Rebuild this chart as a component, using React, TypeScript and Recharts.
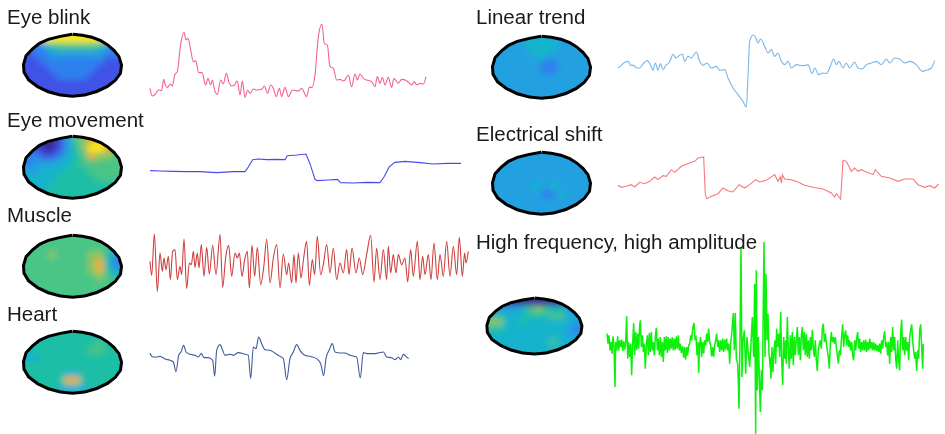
import { ComposedChart, Line, LineChart, Scatter, XAxis, YAxis } from "recharts";

// Traces: [x, y] at 3x, relative to a crop origin (y grows downwards)
const blinkTrace = [450,265,457,288,468,280,475,270,485,272,491,238,497,258,503,262,510,252,517,258,524,225,532,215,541,140,552,97,558,120,564,115,572,150,580,185,587,182,596,218,606,218,617,255,624,235,632,255,637,240,645,275,652,283,662,240,670,252,679,220,688,250,695,258,703,255,712,243,720,285,727,243,735,292,743,270,750,280,760,267,770,270,785,268,793,258,803,280,812,255,820,265,829,290,838,265,845,290,855,262,865,290,878,270,895,273,905,265,920,290,928,262,936,262,945,225,955,110,966,72,973,130,982,135,990,200,1000,205,1010,240,1020,238,1030,243,1035,240,1045,225,1055,260,1065,222,1072,240,1080,222,1090,235,1100,240,1115,245,1125,260,1132,230,1140,250,1147,232,1155,255,1165,232,1175,262,1182,235,1195,250,1205,238,1220,242,1235,255,1243,245,1250,255,1260,250,1270,252,1278,230];
const moveTrace = [450,196,480,197,520,198,560,199,600,199,650,202,700,199,735,199,745,185,758,163,775,161,800,163,830,162,855,163,862,151,890,149,918,146,930,175,945,222,952,226,985,224,1012,222,1022,232,1060,233,1100,231,1140,232,1152,215,1168,184,1185,171,1215,168,1260,172,1300,176,1340,174,1383,174];
const muscleTrace = [450,170,455,212,463,88,472,260,480,145,487,200,492,160,498,195,505,155,511,225,518,140,525,135,532,225,540,185,545,210,552,103,560,252,568,175,574,180,580,140,585,188,592,145,597,190,604,120,612,215,620,128,628,208,638,122,648,210,660,90,668,248,677,158,686,122,695,215,705,145,712,160,718,145,726,215,734,165,742,140,748,250,756,122,764,215,772,128,782,240,792,180,800,103,810,235,820,160,830,120,840,250,850,148,860,210,866,175,875,235,882,150,888,235,895,145,903,220,911,160,920,110,928,242,937,165,944,210,952,95,962,210,970,180,980,120,990,205,1000,130,1010,225,1020,175,1030,205,1040,135,1047,210,1056,130,1068,205,1078,160,1088,210,1100,150,1112,92,1122,232,1130,130,1140,225,1150,135,1160,225,1165,125,1172,205,1180,150,1188,205,1195,150,1205,180,1215,160,1223,232,1232,135,1240,215,1252,110,1260,225,1268,155,1275,210,1285,150,1293,225,1302,115,1312,225,1320,150,1330,215,1340,110,1350,215,1360,125,1370,210,1378,98,1387,215,1394,145,1398,175,1405,140];
const heartTrace = [450,158,458,170,470,170,480,168,495,176,510,180,520,185,528,214,536,165,543,155,551,135,558,155,570,162,585,165,595,170,604,160,612,172,625,172,638,180,644,228,650,150,660,133,668,150,675,165,690,162,700,165,715,157,730,160,745,165,752,235,760,140,768,145,776,110,785,130,795,148,810,150,820,155,835,165,850,175,860,238,870,175,880,155,890,133,900,150,915,165,930,168,950,175,962,190,971,226,978,175,988,148,997,130,1005,155,1020,158,1035,158,1050,165,1070,170,1081,233,1090,157,1105,160,1125,160,1150,155,1160,170,1175,172,1185,178,1195,170,1202,178,1210,162,1218,168,1226,175];
const trendTrace = [445,205,455,197,465,188,475,185,483,197,492,197,500,205,510,205,520,193,533,183,543,197,550,212,557,190,565,212,572,192,580,210,590,195,598,190,610,165,620,175,628,168,638,163,645,185,655,170,665,175,680,157,690,185,700,197,712,190,725,205,740,200,750,212,765,210,775,235,790,265,805,285,820,305,830,322,835,230,840,125,850,106,858,113,865,130,873,118,885,140,895,160,905,150,915,170,925,160,935,185,945,195,955,185,965,205,980,195,1000,198,1015,195,1027,222,1035,205,1047,225,1060,220,1070,222,1080,205,1092,178,1100,195,1108,185,1120,205,1130,190,1140,205,1155,187,1165,205,1178,208,1190,195,1205,190,1220,185,1235,195,1250,178,1260,190,1275,175,1290,178,1305,190,1320,185,1340,195,1358,215,1370,212,1385,205,1395,183];
const shiftTrace = [445,197,455,203,470,200,485,195,495,202,510,188,525,192,540,185,555,172,565,180,580,168,590,170,605,150,615,158,635,140,660,130,675,125,685,115,702,112,707,225,712,237,725,230,745,222,760,205,775,213,790,217,808,195,825,205,840,195,858,180,870,187,890,182,915,165,925,185,932,172,935,190,938,165,945,178,965,180,985,187,1005,197,1030,203,1060,208,1085,220,1095,232,1100,222,1113,238,1120,122,1130,125,1145,155,1155,145,1165,155,1175,150,1190,157,1210,165,1217,150,1235,170,1260,175,1285,185,1305,178,1330,178,1345,195,1365,203,1380,198,1395,205,1407,193];
const highTraceA = [5,100,8,130,11,105,14,150,17,125,20,160,23,108,26,140,29,260,31,125,34,150,37,108,40,150,43,120,46,140,49,118,52,152,55,122,58,148,61,125,64,48,67,175,70,125,73,170,76,130,79,225,82,130,85,68,88,165,91,95,94,150,97,100,100,145,103,75,105,60,108,140,111,105,114,155,117,130,120,205,123,135,126,105,129,165,132,98,135,155,138,95,141,150,144,125,147,165,150,110,153,82,156,150,159,115,162,165,165,110,168,170,171,125,174,185,177,110,180,150,183,108,186,158,189,110,192,150,195,115,198,145,201,110,204,150,207,115,210,148,213,108,216,145,219,105,222,150,225,130,228,158,232,138,235,172,238,140,241,178,244,140,247,165,250,135,253,130,256,105,259,120,262,85,266,68,269,115,272,110,275,165,278,125,280,218,283,130,286,110,289,170,292,125,295,160,298,120,301,135,304,100,307,125,310,85,313,125,316,135,319,168,322,140,325,170,328,135,331,120,334,100,337,140,340,120,343,155,346,120,349,150,352,115,355,155,358,118,361,148,364,115,367,150,370,130,373,190,376,130,380,90,384,38,387,150,390,38,393,175,397,190,399,240,401,325,404,120,407,-160,410,230,413,120,417,90,421,220,425,110,429,160,433,200,437,130,441,50,445,170,448,-50,451,400,453,-90,456,270,459,110,462,230,465,335,468,210,471,270,473,90,476,-175,479,170,482,-80,485,120,488,40,491,160,495,200];
const highTraceB = [0,170,3,235,6,140,9,215,12,150,15,120,17,190,20,85,23,140,26,100,29,170,32,35,35,180,38,255,41,110,44,175,47,120,49,190,52,50,55,150,58,205,61,105,64,175,67,95,70,195,73,110,76,165,79,115,82,80,85,165,88,110,91,180,94,105,97,80,100,150,103,95,106,165,109,100,112,170,115,120,118,175,121,110,124,150,127,88,130,145,133,170,136,120,139,180,142,212,145,150,148,130,151,120,154,145,157,85,160,70,163,125,166,100,169,130,172,150,175,170,178,205,181,130,184,95,187,125,190,110,193,130,196,110,199,140,202,165,205,190,208,150,211,165,214,120,218,72,221,140,224,105,227,90,230,135,233,105,236,140,239,120,242,150,245,125,248,165,251,180,254,120,257,150,260,115,263,95,266,145,269,115,272,155,275,125,278,150,281,120,284,150,287,118,290,155,293,125,296,150,299,115,302,145,305,125,308,150,311,125,314,150,317,130,320,152,323,135,326,155,329,130,332,160,335,120,338,145,341,110,344,92,347,140,350,125,353,165,356,125,359,190,362,110,365,155,368,80,371,150,374,110,377,175,380,205,383,120,386,180,389,210,392,100,395,58,398,150,401,110,404,165,407,110,410,150,413,125,416,180,419,110,422,90,425,72,428,120,431,150,434,175,437,155,440,212,443,150,446,175,449,90,452,72,455,140,458,205,460,130];

// Scalp maps: 12 x 8 cells, each digit an index into the colour scale
const blinkMap = ["229999999982", "223566666532", "122333333322", "112222222211", "111222222111", "111122221111", "111111111111", "111111111111"];
const moveMap = ["100013678987", "110013579987", "221124568776", "233344566666", "334445556666", "444455555666", "444555555555", "444555555555"];
const muscleMap = ["666666666666", "666666666665", "666766667753", "666666667852", "666666667853", "666666666765", "666666666666", "666666666666"];
const heartMap = ["555555555555", "555555555655", "455555556655", "445555555555", "555555555555", "555554455555", "555558855555", "555544445555"];
const trendMap = ["333344443333", "333344443333", "333334433333", "333333223333", "333333223333", "333333333333", "333333333333", "333333333333"];
const shiftMap = ["333333333333", "333333333333", "333333333333", "333333333333", "333334343333", "333333224333", "333333333333", "333333333333"];
const highMap = ["310000000013", "433346764532", "554445556643", "774454444443", "554444444432", "444444444433", "444444446444", "444444444444"];

const colorScale = ["#3a2a9e", "#3f52e6", "#2f80ee", "#22a0e0", "#14b4cc", "#1fbfa5", "#48c586", "#8cc55f", "#f0ae30", "#fde910"];

// Head outline, in units of the head's radii
const outline = [[0,-1],[0.2,-0.97],[0.4,-0.9],[0.58,-0.79],[0.72,-0.65],[0.85,-0.47],[0.95,-0.27],[1,0],[0.98,0.25],[0.88,0.47],[0.72,0.67],[0.5,0.84],[0.25,0.96],[0,1],[-0.25,0.96],[-0.5,0.85],[-0.72,0.68],[-0.9,0.46],[-0.99,0.22],[-1,-0.02],[-0.95,-0.3],[-0.82,-0.52],[-0.68,-0.7],[-0.5,-0.83],[-0.25,-0.93],[0,-1]];

const labels = ["Eye blink", "Eye movement", "Muscle", "Heart", "Linear trend", "Electrical shift", "High frequency, high amplitude"];
const labelPos = [[7, 23.5], [7, 126.7], [7, 221.7], [7, 320.7], [476, 23.5], [476, 141], [476, 249]];

const SPREAD = 1.4;

function Trace({ points, cropX, cropY, color, width = 1.1, curve = "monotone" }: { points: number[]; cropX: number; cropY: number; color: string; width?: number; curve?: any }) {
  const data: { x: number; y: number }[] = [];
  for (let i = 0; i < points.length; i += 2) data.push({ x: points[i], y: points[i + 1] });
  const xs = data.map((d) => d.x);
  const ys = data.map((d) => d.y);
  const x0 = Math.min(...xs);
  const x1 = Math.max(...xs);
  const y0 = Math.min(...ys);
  const y1 = Math.max(...ys);
  const pad = 3;
  return (
    <div style={{ position: "absolute", left: cropX + x0 / 3 - pad, top: cropY + y0 / 3 - pad }}>
      <LineChart
        width={(x1 - x0) / 3 + pad * 2}
        height={(y1 - y0) / 3 + pad * 2}
        data={data}
        margin={{ top: pad, right: pad, bottom: pad, left: pad }}
      >
        <XAxis dataKey="x" type="number" domain={[x0, x1]} hide />
        <YAxis dataKey="y" type="number" domain={[y0, y1]} reversed hide />
        <Line dataKey="y" stroke={color} strokeWidth={width} dot={false} type={curve} isAnimationActive={false} />
      </LineChart>
    </div>
  );
}

function Head({ id, rows, cx, cy, rx, ry }: { id: string; rows: string[]; cx: number; cy: number; rx: number; ry: number }) {
  const w = rx * 2 * SPREAD;
  const h = ry * 2 * SPREAD;
  const nCols = rows[0].length;
  const nRows = rows.length;
  const cellW = (2 / nCols) * rx + 1;
  const cellH = (2 / nRows) * ry + 1;
  // one ring of repeated edge cells so that the blur doesn't fade at the border
  const cells: { x: number; y: number; v: number }[] = [];
  for (let r = -1; r <= nRows; r++) {
    for (let c = -1; c <= nCols; c++) {
      const rr = Math.min(nRows - 1, Math.max(0, r));
      const cc = Math.min(nCols - 1, Math.max(0, c));
      cells.push({ x: -1 + ((c + 0.5) * 2) / nCols, y: -1 + ((r + 0.5) * 2) / nRows, v: Number(rows[rr][cc]) });
    }
  }
  const ring = outline.map(([x, y]) => ({ x, y }));
  const clip = ring.map((p) => `${((p.x + SPREAD) / (2 * SPREAD)) * w},${((p.y + SPREAD) / (2 * SPREAD)) * h}`).join(" ");
  return (
    <div style={{ position: "absolute", left: cx - w / 2, top: cy - h / 2 }}>
      <style>{`.heat-${id}{filter:url(#blur-${id});clip-path:url(#clip-${id})}`}</style>
      <ComposedChart width={w} height={h} margin={{ top: 0, right: 0, bottom: 0, left: 0 }}>
        <defs>
          <filter id={`blur-${id}`}>
            <feGaussianBlur stdDeviation={3.3} />
          </filter>
          <clipPath id={`clip-${id}`} clipPathUnits="userSpaceOnUse">
            <polygon points={clip} />
          </clipPath>
        </defs>
        <XAxis dataKey="x" type="number" domain={[-SPREAD, SPREAD]} hide />
        <YAxis dataKey="y" type="number" domain={[-SPREAD, SPREAD]} reversed hide />
        <Scatter
          data={cells}
          className={`heat-${id}`}
          isAnimationActive={false}
          shape={(p: any) => (
            <rect x={p.cx - cellW / 2} y={p.cy - cellH / 2} width={cellW} height={cellH} fill={colorScale[p.payload.v]} />
          )}
        />
        {/* the heat layer paints over the inner half of this stroke */}
        <Line data={ring} dataKey="y" stroke="#000" strokeWidth={6} dot={false} type="linear" isAnimationActive={false} />
      </ComposedChart>
    </div>
  );
}

export default function App() {
  return (
    <div style={{ position: "absolute", left: 0, top: 0, width: 945, height: 434, background: "#fff", overflow: "hidden", filter: "blur(0.35px)" }}>
      <Head id="blink" rows={blinkMap} cx={72} cy={65} rx={47.5} ry={29.5} />
      <Head id="move" rows={moveMap} cx={72} cy={167.5} rx={47.5} ry={29.5} />
      <Head id="muscle" rows={muscleMap} cx={72} cy={266.5} rx={47.5} ry={29.5} />
      <Head id="heart" rows={heartMap} cx={72} cy={362} rx={47.5} ry={29.5} />
      <Head id="trend" rows={trendMap} cx={541} cy={67.5} rx={47.5} ry={29.5} />
      <Head id="shift" rows={shiftMap} cx={541} cy={183} rx={47.5} ry={29.5} />
      <Head id="high" rows={highMap} cx={534.5} cy={326} rx={46} ry={26.5} />

      <Trace points={blinkTrace} cropX={0} cropY={0} color="#f2609a" />
      <Trace points={moveTrace} cropX={0} cropY={105} color="#4a4af0" curve="linear" />
      <Trace points={muscleTrace} cropX={0} cropY={205} color="#cf4040" />
      <Trace points={heartTrace} cropX={0} cropY={300} color="#3f5a9e" />
      <Trace points={trendTrace} cropX={470} cropY={0} color="#7cb6e8" />
      <Trace points={shiftTrace} cropX={470} cropY={120} color="#f47a7a" curve="linear" />
      <Trace points={highTraceA} cropX={605} cropY={300} color="#0cf00c" width={1.5} curve="linear" />
      <Trace points={highTraceB} cropX={770} cropY={300} color="#0cf00c" width={1.5} curve="linear" />

      {labels.map((text, i) => (
        <div
          key={text}
          style={{
            position: "absolute",
            left: labelPos[i][0],
            top: labelPos[i][1] - 19,
            fontFamily: "'Liberation Sans', Arial, sans-serif",
            fontSize: 20.5,
            lineHeight: "24px",
            color: "#1a1a1a",
            whiteSpace: "nowrap",
          }}
        >
          {text}
        </div>
      ))}
    </div>
  );
}
